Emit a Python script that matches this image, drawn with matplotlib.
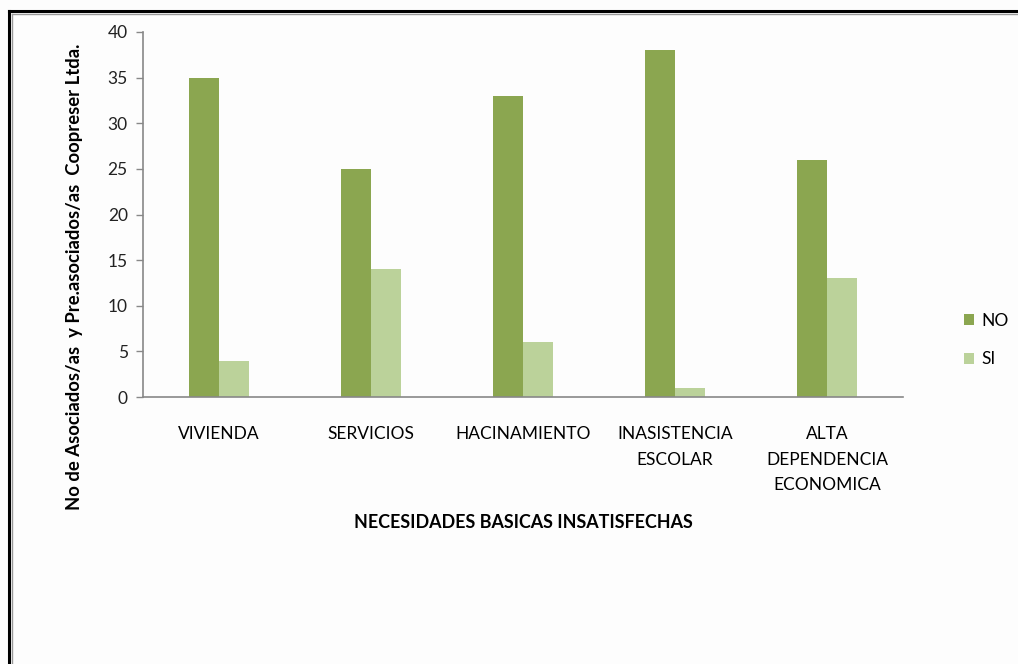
import matplotlib
matplotlib.use("Agg")
import matplotlib.pyplot as plt
from matplotlib.lines import Line2D
import numpy as np

categories = ["VIVIENDA", "SERVICIOS", "HACINAMIENTO", "INASISTENCIA\nESCOLAR", "ALTA\nDEPENDENCIA\nECONOMICA"]
no_values = [35, 25, 33, 38, 26]
si_values = [4, 14, 6, 1, 13]
series_names = ["NO", "SI"]
yticks = [0, 5, 10, 15, 20, 25, 30, 35, 40]

plt.rcParams['font.family'] = ['Lato', 'DejaVu Sans']

W, H = 1018, 664
fig = plt.figure(figsize=(W / 100, H / 100), dpi=100)
fig.patch.set_facecolor('#fdfdfd')

ax = fig.add_axes([143 / W, 1 - 397 / H, (903 - 143) / W, (397 - 32) / H])
ax.set_facecolor('#fdfdfd')

x = np.arange(len(categories))
bw = 0.198
c_no = '#8ba650'
c_si = '#bbd29a'
ax.bar(x - bw / 2, no_values, bw, color=c_no, label=series_names[0])
ax.bar(x + bw / 2, si_values, bw, color=c_si, label=series_names[1])

ax.set_xlim(-0.5, len(categories) - 0.5)
ax.set_ylim(0, 40)
ax.set_yticks(yticks)
ax.set_xticks(x)
ax.set_xticklabels(categories, fontsize=12.5, linespacing=1.72, va='top')
ax.tick_params(axis='x', length=0, pad=21)
ax.tick_params(axis='y', direction='out', length=5, width=1, color='#888888', labelsize=12.5, pad=6)
for lab in ax.get_yticklabels():
    lab.set_color('#222222')

for s in ['top', 'right']:
    ax.spines[s].set_visible(False)
for s in ['left', 'bottom']:
    ax.spines[s].set_color('#888888')
    ax.spines[s].set_linewidth(1.2)

fig.text(75 / W, 1 - 277 / H, "No de Asociados/as  y Pre.asociados/as  Coopreser Ltda.",
         rotation=90, ha='center', va='center', fontsize=13.3, fontweight='bold')
fig.text(523 / W, 1 - 523 / H, "NECESIDADES BASICAS INSATISFECHAS",
         ha='center', va='center', fontsize=12.9, fontweight='bold')

leg = ax.legend(loc='center left', bbox_to_anchor=(948 / W, 1 - 340 / H),
                bbox_transform=fig.transFigure, frameon=False, fontsize=12.5,
                handlelength=0.6, handleheight=0.6, handletextpad=0.4, labelspacing=1.3)

# frame border
fig.add_artist(Line2D([9 / W, 9 / W], [0, 1 - 11 / H], color='black', lw=2.2, transform=fig.transFigure))
fig.add_artist(Line2D([9 / W, 1], [1 - 11 / H, 1 - 11 / H], color='black', lw=2.2, transform=fig.transFigure))
fig.add_artist(Line2D([12 / W, 12 / W], [0, 1 - 14 / H], color='#999999', lw=1, transform=fig.transFigure))
fig.add_artist(Line2D([12 / W, 1], [1 - 14 / H, 1 - 14 / H], color='#999999', lw=1, transform=fig.transFigure))

fig.savefig("out.png", dpi=100, facecolor=fig.get_facecolor())
